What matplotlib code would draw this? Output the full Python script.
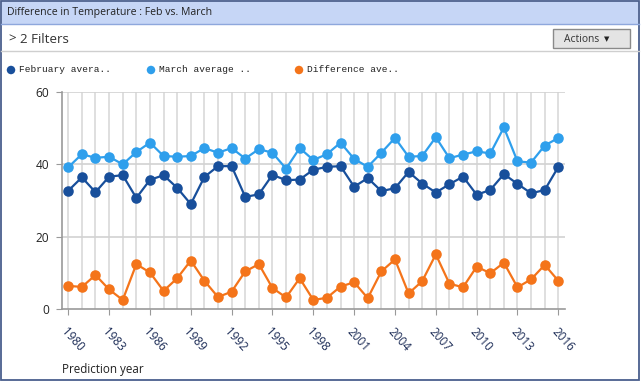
import matplotlib
matplotlib.use("Agg")
import matplotlib.pyplot as plt
from matplotlib.patches import Rectangle, Ellipse
from matplotlib.lines import Line2D

W, H = 644, 385

years = list(range(1980, 2017))
feb = [32.7, 36.4, 32.3, 36.6, 37.0, 30.7, 35.7, 37.0, 33.5, 29.0,
       36.5, 39.5, 39.5, 31.0, 31.7, 37.1, 35.6, 35.8, 38.5, 39.3,
       39.5, 33.8, 36.2, 32.6, 33.4, 37.9, 34.7, 32.2, 34.5, 36.6,
       31.6, 32.9, 37.3, 34.6, 32.0, 32.9, 39.3]
march = [39.2, 42.8, 41.8, 42.1, 40.0, 43.4, 46.0, 42.3, 42.1, 42.3,
         44.5, 43.2, 44.5, 41.6, 44.2, 43.2, 38.8, 44.5, 41.2, 42.8,
         46.0, 41.5, 39.3, 43.2, 47.3, 42.1, 42.3, 47.5, 41.7, 42.7,
         43.6, 43.0, 50.2, 40.8, 40.5, 45.2, 47.3]
diff = [6.4, 6.1, 9.4, 5.4, 2.5, 12.4, 10.1, 5.0, 8.5, 13.4,
        7.8, 3.3, 4.8, 10.4, 12.4, 5.8, 3.2, 8.5, 2.5, 3.1,
        6.2, 7.4, 3.0, 10.4, 13.7, 4.3, 7.7, 15.1, 7.0, 6.0,
        11.7, 9.9, 12.8, 6.0, 8.2, 12.2, 7.8]
series_names = ["February avera..", "March average ..", "Difference ave.."]
series_colors = ["#184f9b", "#2f9fec", "#f4741a"]
yticks = [0, 20, 40, 60]
xtick_years = years[::3]

UI_FONT = "Open Sans"
MONO_FONT = "Liberation Mono"


def fx(px):
    return px / W


def fy(py):
    return 1 - py / H


fig = plt.figure(figsize=(W / 100, H / 100), dpi=100)


def add_rect(x0, y0, x1, y1, **kw):
    r = Rectangle((fx(x0), fy(y1)), (x1 - x0) / W, (y1 - y0) / H,
                  transform=fig.transFigure, zorder=-5, **kw)
    fig.add_artist(r)


def add_hline(x0, x1, y, **kw):
    fig.add_artist(Line2D([fx(x0), fx(x1)], [fy(y), fy(y)],
                          transform=fig.transFigure, zorder=-4, **kw))


# panel frame and header
add_rect(1, 1, 639, 380, facecolor="white", edgecolor="#4a5f8e", lw=1.3)
add_rect(1.6, 1.6, 638.4, 24, facecolor="#c6d6f6", edgecolor="none")
add_hline(1, 639, 24, color="#8ea7dc", lw=1)
add_hline(1, 639, 51, color="#cfcfcf", lw=1)
fig.text(fx(7), fy(13), "Difference in Temperature : Feb vs. March", family=UI_FONT,
         fontsize=7.6, color="#222222", va="center", ha="left")
fig.text(fx(8), fy(39.5), ">", family=UI_FONT, fontsize=9.5, color="#333333", va="center")
fig.text(fx(20), fy(39.5), "2 Filters", family=UI_FONT, fontsize=9.6, color="#333333", va="center")
add_rect(553, 29, 630, 48, facecolor="#e4e4e4", edgecolor="#8a8a8a", lw=1)
fig.text(fx(564), fy(39), "Actions", family=UI_FONT, fontsize=7.4,
         color="#333333", va="center", ha="left")
fig.text(fx(607), fy(39), "\u25bc", family="DejaVu Sans", fontsize=5,
         color="#222222", va="center", ha="center")

# legend
leg_x = [11, 151, 299]
for lx, name, c in zip(leg_x, series_names, series_colors):
    fig.add_artist(Ellipse((fx(lx), fy(70)), 8.5 / W, 8.5 / H, transform=fig.transFigure,
                           facecolor=c, edgecolor="none"))
    fig.text(fx(lx + 8), fy(70), name, family=MONO_FONT, fontsize=6.8,
             color="#222222", va="center", ha="left")

# chart
ax = fig.add_axes([fx(62), fy(309), (565 - 62) / W, (309 - 92) / H])
ax.patch.set_alpha(0)
for yr in years:
    ax.axvline(yr, color="#d6d6d6", lw=1.1, zorder=0)
for t in yticks[1:]:
    ax.axhline(t, color="#d2d2d2", lw=1.2, zorder=0)

for vals, c in zip([feb, march, diff], series_colors):
    ax.plot(years, vals, color=c, lw=1.6, marker="o", markersize=7.6,
            markeredgewidth=0, zorder=3, clip_on=False)

ax.set_xlim(1979.54, 2016.49)
ax.set_ylim(0, 60)
ax.set_yticks(yticks)
ax.set_yticklabels([str(t) for t in yticks], family=UI_FONT, fontsize=8.6, color="#222222")
ax.set_xticks(xtick_years)
ax.set_xticklabels([str(y) for y in xtick_years], family=UI_FONT, fontsize=8.4,
                   color="#1a2a55", rotation=-48, ha="left", va="top", rotation_mode="anchor")
ax.tick_params(axis="y", length=4, color="#999999", pad=5)
ax.tick_params(axis="x", length=4, color="#999999", pad=8)
for side in ["top", "right"]:
    ax.spines[side].set_visible(False)
for side in ["left", "bottom"]:
    ax.spines[side].set_color("#9a9a9a")
    ax.spines[side].set_linewidth(1.2)

fig.text(fx(62), fy(369), "Prediction year", family=UI_FONT, fontsize=8.4,
         color="#222222", va="center", ha="left")

fig.savefig("out.png", dpi=100)
